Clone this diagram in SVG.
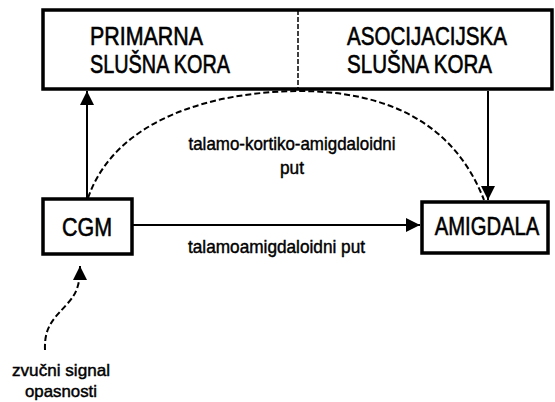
<svg xmlns="http://www.w3.org/2000/svg" width="555" height="402" viewBox="0 0 555 402">
<style>
.box{fill:#fff;stroke:#000;stroke-width:3.5}
.big{font-family:"Liberation Sans",Arial,sans-serif;font-size:25px;fill:#000;stroke:#000;stroke-width:0.6}
.bx{font-size:26px}
.sm{font-family:"Liberation Sans",Arial,sans-serif;font-size:19px;fill:#000;stroke:#000;stroke-width:0.45}
.xs{font-size:17px}
.ln{fill:none;stroke:#000;stroke-width:2}
.dash{fill:none;stroke:#000;stroke-width:2;stroke-dasharray:6 3}
</style>
<defs>
<marker id="ah" markerWidth="16" markerHeight="14" refX="14" refY="7" orient="auto" markerUnits="userSpaceOnUse">
<path d="M0,0 L14,7 L0,14 Z" fill="#000"/>
</marker>
</defs>
<g id="cortex">
<rect class="box" x="43" y="10" width="509" height="79"/>
<line x1="298" y1="10" x2="298" y2="89" stroke="#000" stroke-width="1.5" stroke-dasharray="5 2"/>
<text class="big" x="90" y="45" textLength="113" lengthAdjust="spacingAndGlyphs">PRIMARNA</text>
<text class="big" x="90" y="73" textLength="140" lengthAdjust="spacingAndGlyphs">SLUŠNA KORA</text>
<text class="big" x="347" y="45" textLength="160" lengthAdjust="spacingAndGlyphs">ASOCIJACIJSKA</text>
<text class="big" x="347" y="73" textLength="145" lengthAdjust="spacingAndGlyphs">SLUŠNA KORA</text>
</g>
<g id="cgm">
<rect class="box" x="43" y="199" width="89" height="55"/>
<text class="big bx" x="87" y="236" text-anchor="middle" textLength="50" lengthAdjust="spacingAndGlyphs">CGM</text>
</g>
<g id="amigdala">
<rect class="box" x="422" y="202" width="126" height="51"/>
<text class="big bx" transform="translate(487,235) scale(0.78,1)" x="0" y="0" text-anchor="middle">AMIGDALA</text>
</g>
<g id="connectors">
<line class="ln" x1="87" y1="198" x2="87" y2="91" marker-end="url(#ah)"/>
<line class="ln" x1="488" y1="91" x2="488" y2="200" marker-end="url(#ah)"/>
<line class="ln" x1="133" y1="225" x2="420" y2="225" marker-end="url(#ah)"/>
<path class="dash" d="M88,198 C115,120 210,92 298,91 C390,91 455,125 484,200"/>
<path class="dash" d="M45,350 C44,325 55,318 68,303 C78,292 80,282 80,266" marker-end="url(#ah)"/>
</g>
<g id="labels">
<text class="sm" x="292" y="150" text-anchor="middle" textLength="207" lengthAdjust="spacingAndGlyphs">talamo-kortiko-amigdaloidni</text>
<text class="sm" x="292" y="174" text-anchor="middle" textLength="24" lengthAdjust="spacingAndGlyphs">put</text>
<text class="sm" x="188" y="253" textLength="177" lengthAdjust="spacingAndGlyphs">talamoamigdaloidni put</text>
<text class="sm xs" x="12" y="376" textLength="98" lengthAdjust="spacingAndGlyphs">zvučni signal</text>
<text class="sm xs" x="25" y="397" textLength="72" lengthAdjust="spacingAndGlyphs">opasnosti</text>
</g>
</svg>
